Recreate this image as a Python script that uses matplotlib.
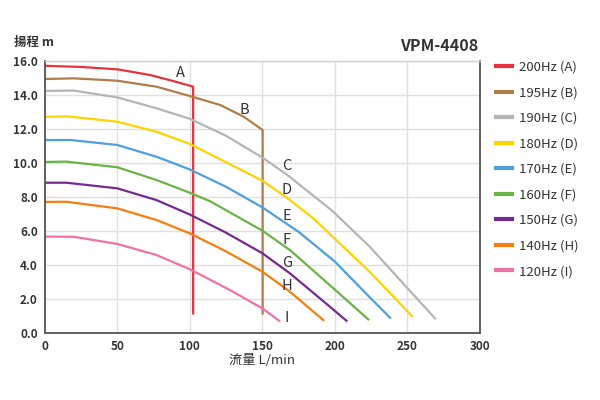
import matplotlib
matplotlib.use("Agg")
from matplotlib import pyplot as plt

plt.rcParams['font.family'] = ['Noto Sans CJK TC', 'DejaVu Sans']

# curve labels / legend text
letters = ["A", "B", "C", "D", "E", "F", "G", "H", "I"]
names = ["200Hz (A)", "195Hz (B)", "190Hz (C)", "180Hz (D)", "170Hz (E)",
         "160Hz (F)", "150Hz (G)", "140Hz (H)", "120Hz (I)"]
colors = ["#e8323f", "#b07d48", "#b5b5b5", "#ffd200", "#4f9fdc",
          "#6cb346", "#762a8f", "#f57e10", "#ee72a8"]

# flow (L/min) and head (m)
flow_A = [0, 25, 50, 72.5, 88.6, 102.3, 102.3]
head_A = [15.72, 15.65, 15.51, 15.18, 14.82, 14.49, 1.15]
flow_B = [0, 20, 50, 77, 100, 121, 137, 150.2, 150.2]
head_B = [14.94, 14.98, 14.84, 14.49, 13.94, 13.41, 12.73, 11.94, 1.15]
flow_C = [0, 20, 50, 77, 100, 125, 150, 167, 198, 224, 249, 269]
head_C = [14.24, 14.26, 13.86, 13.22, 12.6, 11.6, 10.32, 9.31, 7.2, 5.08, 2.73, 0.86]
flow_D = [0, 16, 50, 77, 100, 150, 167, 185, 196.5, 224, 253]
head_D = [12.72, 12.74, 12.43, 11.84, 11.12, 8.96, 7.95, 6.75, 5.82, 3.6, 1.0]
flow_E = [0, 18, 50, 77, 100, 125, 150, 175, 200, 224, 238]
head_E = [11.35, 11.35, 11.06, 10.37, 9.62, 8.6, 7.39, 5.95, 4.2, 2.1, 0.9]
flow_F = [0, 15, 50, 77, 100, 114, 150, 169, 200, 223]
head_F = [10.06, 10.08, 9.75, 9.0, 8.25, 7.75, 6.02, 4.88, 2.55, 0.8]
flow_G = [0, 15, 50, 77, 100, 125, 150, 169, 196.5, 208]
head_G = [8.84, 8.84, 8.51, 7.82, 6.97, 5.9, 4.69, 3.51, 1.55, 0.72]
flow_H = [0, 15, 50, 77, 100, 125, 150, 169, 192]
head_H = [7.71, 7.72, 7.33, 6.65, 5.86, 4.8, 3.61, 2.43, 0.76]
flow_I = [0, 20, 50, 77, 100, 127.6, 150, 161.6]
head_I = [5.67, 5.66, 5.24, 4.59, 3.75, 2.53, 1.45, 0.72]

flows = [flow_A, flow_B, flow_C, flow_D, flow_E, flow_F, flow_G, flow_H, flow_I]
heads = [head_A, head_B, head_C, head_D, head_E, head_F, head_G, head_H, head_I]

# where the letters sit
label_x = [93.6, 137.9, 167, 167, 167, 167, 167, 167, 167]
label_y = [15.28, 13.12, 9.82, 8.41, 6.88, 5.47, 4.14, 2.76, 0.86]

fig = plt.figure(figsize=(6, 4), dpi=100)
ax = fig.add_axes([0.0745, 0.1675, 0.7255, 0.68])

for i in range(len(flows)):
    ax.plot(flows[i], heads[i], color=colors[i], lw=1.6, label=names[i],
            solid_joinstyle='round')
    ax.text(label_x[i], label_y[i], letters[i], fontsize=10.5, color="#333333",
            ha="center", va="center")

ax.set_xlim(0, 300)
ax.set_ylim(0, 16)
ax.set_xticks(range(0, 301, 50))
ax.set_yticks(range(0, 17, 2))
ax.set_yticklabels(["%.1f" % v for v in range(0, 17, 2)])
ax.grid(True, color="#e0e0e0", lw=1)
ax.set_axisbelow(True)
ax.tick_params(length=0, labelsize=8.5, colors="#333333", pad=5)
for lab in ax.get_xticklabels() + ax.get_yticklabels():
    lab.set_fontweight("bold")
for s in ["left", "bottom", "right"]:
    ax.spines[s].set_color("#555555")
    ax.spines[s].set_linewidth(1.3)
ax.spines["top"].set_color("#d0d0d0")
ax.spines["top"].set_linewidth(1)

fig.text(0.024, 0.893, "揚程 m", fontsize=9, fontweight="bold", color="#333333",
         va="center", ha="left")
fig.text(0.797, 0.885, "VPM-4408", fontsize=11.5, fontweight="bold", color="#333333",
         va="center", ha="right")
fig.text(0.437, 0.098, "流量 L/min", fontsize=9.5, color="#333333",
         va="center", ha="center")

leg = ax.legend(loc="upper left", bbox_to_anchor=(0.826, 0.848),
                bbox_transform=fig.transFigure, frameon=False, fontsize=9.5,
                handlelength=1.25, handletextpad=0.55, labelspacing=0.95,
                borderpad=0, borderaxespad=0)
for line in leg.get_lines():
    line.set_linewidth(3)
for t in leg.get_texts():
    t.set_color("#333333")

fig.savefig("out.png", dpi=100)
